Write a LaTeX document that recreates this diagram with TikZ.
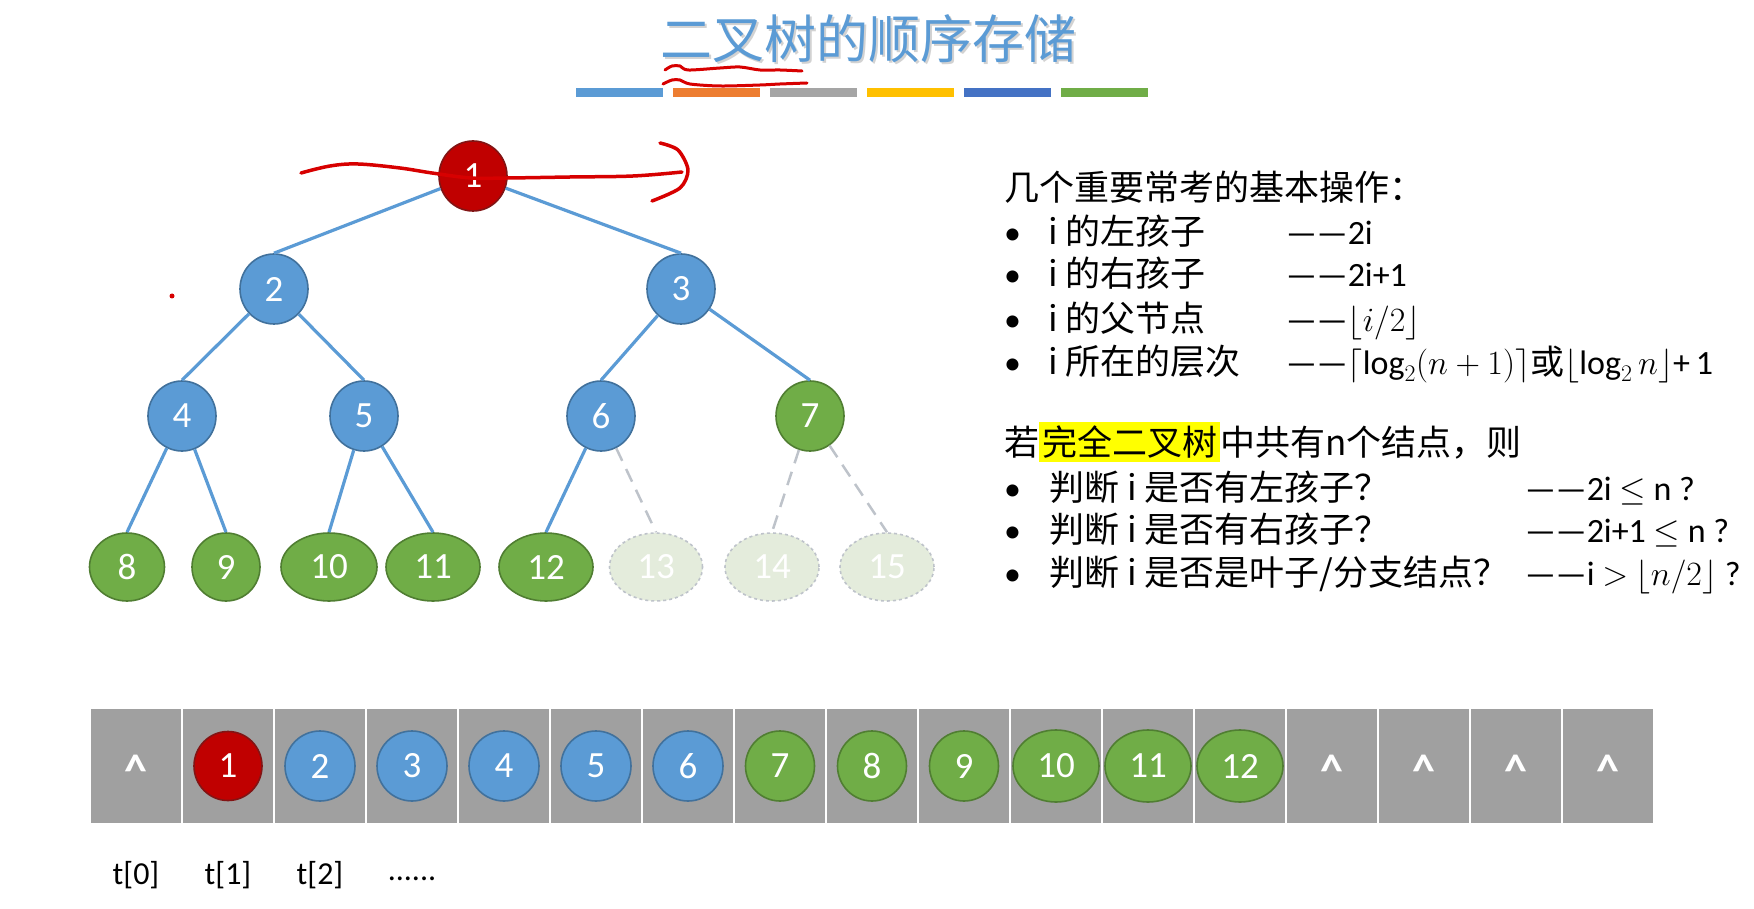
\RequirePackage{fix-cm}
\documentclass[tikz,border=0pt]{standalone}
\usepackage{fontspec}
\setmainfont{Carlito}
\newfontfamily\cjk{Noto Sans CJK SC}
\usetikzlibrary{shapes.geometric}
\definecolor{oblue}{RGB}{91,155,213}
\definecolor{obluedk}{RGB}{65,113,156}
\definecolor{ored}{RGB}{192,0,0}
\definecolor{oreddk}{RGB}{130,20,20}
\definecolor{ogreen}{RGB}{112,173,71}
\definecolor{ogreendk}{RGB}{80,126,50}
\definecolor{oorange}{RGB}{237,125,49}
\definecolor{ogray}{RGB}{165,165,165}
\definecolor{oyellow}{RGB}{255,192,0}
\definecolor{odblue}{RGB}{68,114,196}
\definecolor{cellgray}{RGB}{160,160,160}
\definecolor{ghostfill}{RGB}{228,236,220}
\definecolor{ghostline}{RGB}{190,195,202}
\definecolor{ink}{RGB}{215,0,0}
\definecolor{hilite}{RGB}{255,255,0}
\setlength{\fboxsep}{3pt}
\tikzset{
  pxgrid/.style={x=1pt,y=-1pt},
  num/.style={ellipse,inner sep=0pt,line width=1.6pt,text=white,
    font=\fontsize{37}{37}\selectfont,minimum width=68pt,minimum height=70pt},
  rednum/.style={num,fill=ored,draw=oreddk},
  bluenum/.style={num,fill=oblue,draw=obluedk},
  greennum/.style={num,fill=ogreen,draw=ogreendk},
  ghostnum/.style={num,fill=ghostfill,draw=ghostline,dashed},
  edge/.style={oblue,line width=3.2pt},
  ghostedge/.style={ghostline,line width=2.5pt,dash pattern=on 14pt off 9pt},
  cell/.style={rectangle,fill=cellgray,draw=white,line width=2pt,
    minimum width=92pt,minimum height=116pt,inner sep=0pt},
  nil/.style={text=white,anchor=base,inner sep=0pt,font=\fontsize{46}{46}\selectfont\bfseries},
  idx/.style={font=\fontsize{32}{32}\selectfont},
  txt/.style={anchor=west,inner sep=0pt,font=\fontsize{35}{40}\selectfont\cjk,
    text height=30pt,text depth=4pt},
  frm/.style={txt,font=\fontsize{34}{40}\selectfont},
  scribble/.style={ink,line width=3.5pt,line cap=round,line join=round},
}

\begin{document}
\begin{tikzpicture}[pxgrid]
  \useasboundingbox (0,0) rectangle (1754,909);
  % title and colour bars
  \node[text=gray!35,font=\fontsize{52}{52}\selectfont\cjk] (titleshadow) at (870,41) {二叉树的顺序存储};
  \node[text=oblue,font=\fontsize{52}{52}\selectfont\cjk] (title) at (868,39) {二叉树的顺序存储};
  \foreach \c [count=\k from 0] in {oblue,oorange,ogray,oyellow,odblue,ogreen}
    \fill[\c] ({576+97*\k},88) rectangle +(87,9);

  % the tree
  \node[rednum] (n1) at (473,176) {1};
  \node[bluenum] (n2) at (274,289) {2};
  \node[bluenum] (n3) at (681,289) {3};
  \node[bluenum] (n4) at (182,416) {4};
  \node[bluenum] (n5) at (364,416) {5};
  \node[bluenum] (n6) at (601,416) {6};
  \node[greennum] (n7) at (810,416) {7};
  \node[greennum,minimum width=75pt,minimum height=68pt] (n8) at (127,567) {8};
  \node[greennum,minimum width=68pt,minimum height=68pt] (n9) at (226,567) {9};
  \node[greennum,minimum width=96pt,minimum height=68pt] (n10) at (329,567) {10};
  \node[greennum,minimum width=94pt,minimum height=68pt] (n11) at (433,567) {11};
  \node[greennum,minimum width=94pt,minimum height=68pt] (n12) at (546,567) {12};
  \node[ghostnum,minimum width=93pt,minimum height=68pt] (n13) at (656,567) {13};
  \node[ghostnum,minimum width=94pt,minimum height=68pt] (n14) at (772,567) {14};
  \node[ghostnum,minimum width=94pt,minimum height=68pt] (n15) at (887,567) {15};
  \foreach \a/\b in {1/2,1/3,2/4,2/5,3/6,3/7,4/8,4/9,5/10,5/11,6/12}
    \draw[edge] (n\a) -- (n\b.north);
  \foreach \a/\b in {6/13,7/14,7/15}
    \draw[ghostedge] (n\a) -- (n\b.north);

  % the array
  \foreach \i in {0,...,16}
    \node[cell] (c\i) at ({136+92*\i},766) {};
  \foreach \i in {0,13,14,15,16}
    \node[nil] (nil\i) at ([yshift=-20pt]c\i.center) {\^{}};
  \node[rednum,minimum width=68pt,minimum height=69pt] (a1) at (c1) {1};
  \foreach \i in {2,...,6}
    \node[bluenum,minimum width=70pt,minimum height=70pt] (a\i) at (c\i) {\i};
  \foreach \i in {7,8,9}
    \node[greennum,minimum width=69pt,minimum height=70pt] (a\i) at (c\i) {\i};
  \foreach \i in {10,11,12}
    \node[greennum,minimum width=86pt,minimum height=72pt] (a\i) at (c\i) {\i};
  \node[idx] (t0) at (c0 |- 0,875) {t[0]};
  \node[idx] (t1) at (c1 |- 0,875) {t[1]};
  \node[idx] (t2) at (c2 |- 0,875) {t[2]};
  \node[idx] (dots) at (c3 |- 0,879) {......};

  % basic operations
  \node[txt] (ops) at (1004,188) {几个重要常考的基本操作：};
  \node[frm] (b1) at (1004,232) {•};
  \node[frm] (b2) at (1004,274) {•};
  \node[frm] (b3) at (1004,318) {•};
  \node[frm] (b4) at (1004,361) {•};
  \node[txt] (l1) at (1048,232) {i 的左孩子};
  \node[txt] (l2) at (1048,274) {i 的右孩子};
  \node[txt] (l3) at (1048,318) {i 的父节点};
  \node[txt] (l4) at (1048,361) {i 所在的层次};
  \node[frm] (f1) at (1286,232) {——2i};
  \node[frm] (f2) at (1286,274) {——2i+1};
  \node[frm] (f3) at (1286,318) {——$\lfloor i/2\rfloor$};
  \node[frm] (f4) at (1286,361) {——$\lceil\log_2(n+1)\rceil${\cjk 或}$\lfloor\log_2 n\rfloor$+\,1};

  % complete binary tree
  \node[txt] (cond) at (1004,442) {若\colorbox{hilite}{\rule[-4pt]{0pt}{33pt}完全二叉树}中共有n个结点，则};
  \node[frm] (b5) at (1004,487) {•};
  \node[frm] (b6) at (1004,529) {•};
  \node[frm] (b7) at (1004,572) {•};
  \node[txt] (q1) at (1049,487) {判断 i 是否有左孩子？};
  \node[txt] (q2) at (1049,529) {判断 i 是否有右孩子？};
  \node[txt] (q3) at (1049,572) {判断 i 是否是叶子/分支结点？};
  \node[frm] (g1) at (1525,487) {——2i $\leq$ n ?};
  \node[frm] (g2) at (1525,529) {——2i+1 $\leq$ n ?};
  \node[frm] (g3) at (1525,572) {——i $>$ $\lfloor n/2\rfloor$ ?};

  % red pen marks
  \draw[scribble] plot[smooth,tension=0.6] coordinates {(301,173) (330,166) (358,164) (400,168) (432,173) (471,178) (507,178) (570,177) (633,176) (682,172)};
  \draw[scribble] plot[smooth] coordinates {(660,143) (678,150) (688,170) (680,188) (652,201)};
  \draw[scribble,line width=3pt] plot[smooth,tension=0.5] coordinates {(665,70) (672,66) (680,66) (688,70) (720,68) (740,67) (760,70) (780,70) (802,71)};
  \draw[scribble,line width=3pt] plot[smooth,tension=0.5] coordinates {(663,84) (672,80) (680,80) (690,84) (720,86) (760,85) (780,84) (807,83)};
  \fill[ink] (172,296) circle (2.5pt);
\end{tikzpicture}
\end{document}
